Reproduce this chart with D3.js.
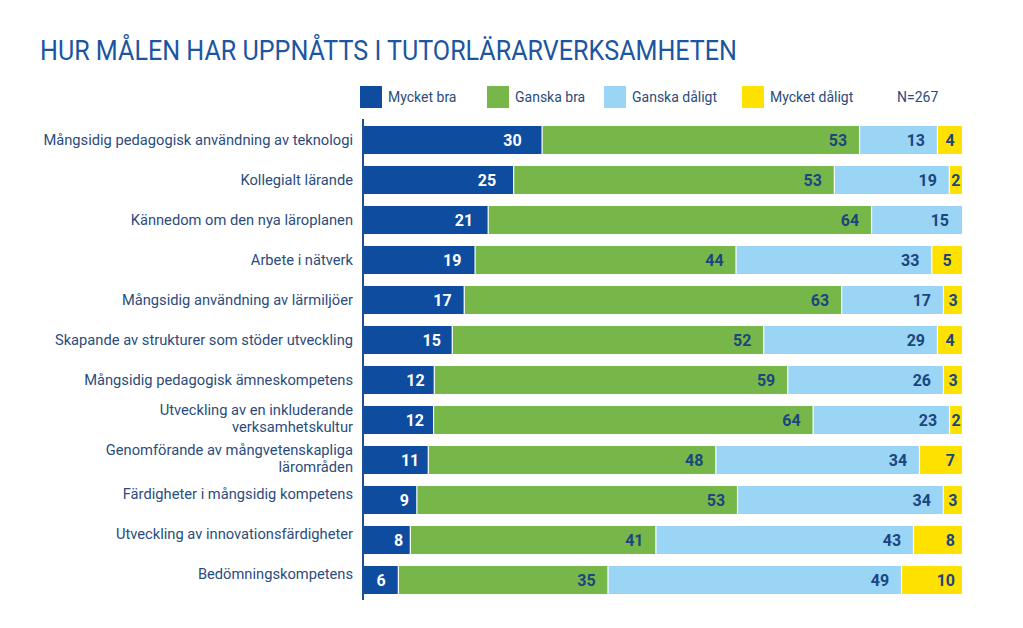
<!DOCTYPE html>
<html><head><meta charset="utf-8">
<script src="https://cdn.jsdelivr.net/npm/d3@7"></script>
<style>
body{margin:0;background:#fff;}
svg{display:block;}
</style></head>
<body>
<svg id="chart" width="1023" height="628"></svg>
<script>
const title = "HUR MÅLEN HAR UPPNÅTTS I TUTORLÄRARVERKSAMHETEN";
const categories = [
  ["Mångsidig pedagogisk användning av teknologi"],
  ["Kollegialt lärande"],
  ["Kännedom om den nya läroplanen"],
  ["Arbete i nätverk"],
  ["Mångsidig användning av lärmiljöer"],
  ["Skapande av strukturer som stöder utveckling"],
  ["Mångsidig pedagogisk ämneskompetens"],
  ["Utveckling av en inkluderande", "verksamhetskultur"],
  ["Genomförande av mångvetenskapliga", "lärområden"],
  ["Färdigheter i mångsidig kompetens"],
  ["Utveckling av innovationsfärdigheter"],
  ["Bedömningskompetens"]
];
const seriesNames = ["Mycket bra", "Ganska bra", "Ganska dåligt", "Mycket dåligt"];
const mycketBra    = [30, 25, 21, 19, 17, 15, 12, 12, 11, 9, 8, 6];
const ganskaBra    = [53, 53, 64, 44, 63, 52, 59, 64, 48, 53, 41, 35];
const ganskaDaligt = [13, 19, 15, 33, 17, 29, 26, 23, 34, 34, 43, 49];
const mycketDaligt = [4, 2, 0, 5, 3, 4, 3, 2, 7, 3, 8, 10];
const nLabel = "N=267";

const colors = ["#0d4c9f", "#77b74a", "#9ad5f6", "#ffe100"];
const labelColors = ["#ffffff", "#1b467e", "#1b467e", "#1b467e"];
const textColor = "#2b4c7c";
const FONT2 = "Roboto, 'Open Sans', sans-serif";

const rows = categories.map((c, i) => ({
  key: i, label: c,
  "Mycket bra": mycketBra[i], "Ganska bra": ganskaBra[i],
  "Ganska dåligt": ganskaDaligt[i], "Mycket dåligt": mycketDaligt[i]
}));

const svg = d3.select("#chart");
const x = d3.scaleLinear().domain([0, 1]).range([363, 962]);
const y = d3.scaleBand().domain(rows.map(d => d.key)).range([120, 600])
  .paddingInner(0.3).paddingOuter(0.15);

const stack = d3.stack().keys(seriesNames).offset(d3.stackOffsetExpand);
const series = stack(rows);

// title
const t = svg.append("text").attr("x", 40).attr("y", 60)
  .attr("fill", "#1c55a0").attr("font-family", FONT2)
  .attr("font-size", 28).text(title);
const tl = t.node().getComputedTextLength();
if (Math.abs(tl - 697) > 5) t.attr("textLength", 697).attr("lengthAdjust", "spacingAndGlyphs");

// legend
const legX = [360, 487, 604, 742];
const leg = svg.append("g");
seriesNames.forEach((s, i) => {
  leg.append("rect").attr("x", legX[i]).attr("y", 86).attr("width", 22).attr("height", 22).attr("fill", colors[i]);
  leg.append("text").attr("x", legX[i] + 28).attr("y", 102)
    .attr("fill", textColor).attr("font-family", FONT2).attr("font-size", 14).text(s);
});
leg.append("text").attr("x", 897).attr("y", 102)
  .attr("fill", textColor).attr("font-family", FONT2).attr("font-size", 14).text(nLabel);

// bars
const g = svg.append("g");
series.forEach((s, si) => {
  const sg = g.append("g").attr("fill", colors[si]);
  s.forEach((d, ri) => {
    const x0 = x(d[0]), x1 = x(d[1]);
    if (x1 - x0 <= 0) return;
    const last = si === seriesNames.length - 1 || d[1] >= 0.9999;
    sg.append("rect").attr("x", x0).attr("y", y(ri))
      .attr("width", Math.max(0, x1 - x0 - (last ? 0 : 1.2)))
      .attr("height", y.bandwidth());
    const v = d.data[seriesNames[si]];
    if (!v) return;
    const w = x1 - x0;
    let lx, anchor;
    if (w < 30) { lx = (x0 + x1) / 2; anchor = "middle"; }
    else if (si === 0) { lx = w < 40 ? (x0 + x1) / 2 : x1 - (0.1 * w + 3); anchor = w < 40 ? "middle" : "end"; }
    else { lx = x1 - (si === 3 ? 7 : 13); anchor = "end"; }
    g.append("text").attr("x", lx).attr("y", y(ri) + y.bandwidth() / 2 + 6)
      .attr("text-anchor", anchor).attr("fill", labelColors[si])
      .attr("font-family", FONT2).attr("font-weight", "bold").attr("font-size", 16)
      .text(v);
  });
});

// axis line
svg.append("line").attr("x1", 363).attr("x2", 363).attr("y1", 119).attr("y2", 600)
  .attr("stroke", "#1d4f91").attr("stroke-width", 2);

// category labels
rows.forEach((r, i) => {
  const cy = y(i) + y.bandwidth() / 2 + (i >= 9 ? -6 : i === 8 ? -2 : i === 7 ? -1.5 : 0);
  const n = r.label.length;
  const lh = 17;
  const tx = svg.append("text").attr("text-anchor", "end")
    .attr("fill", textColor).attr("font-family", FONT2).attr("font-size", 14.7);
  r.label.forEach((line, li) => {
    tx.append("tspan").attr("x", 353)
      .attr("y", cy + 5 + (li - (n - 1) / 2) * lh).text(line);
  });
});
</script>
</body></html>
